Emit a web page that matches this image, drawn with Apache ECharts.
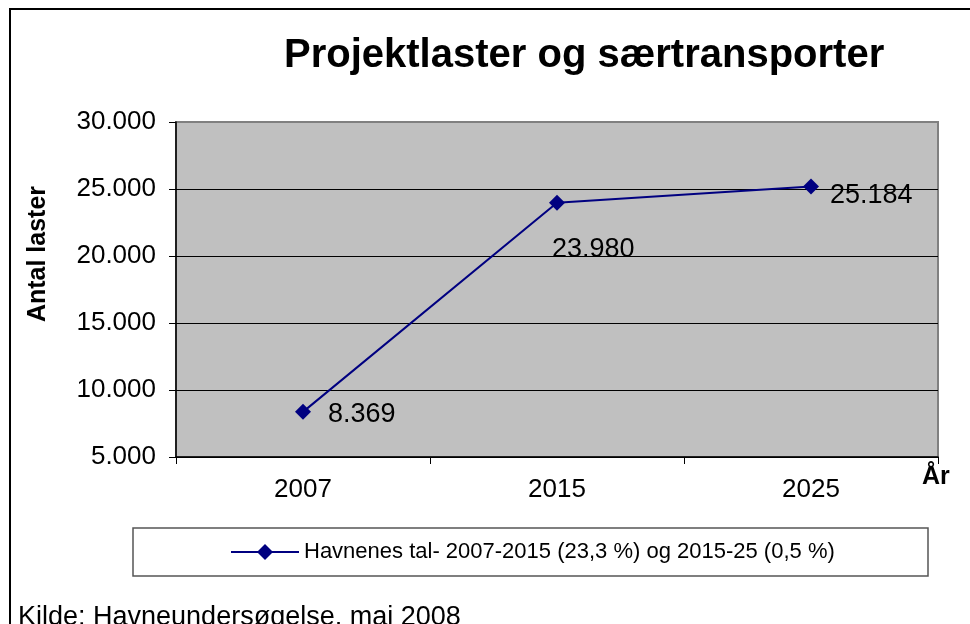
<!DOCTYPE html>
<html>
<head>
<meta charset="utf-8">
<script src="https://cdn.jsdelivr.net/npm/echarts@6/dist/echarts.min.js"></script>
<style>
  html, body { margin: 0; padding: 0; background: #fff; }
  #chart { width: 970px; height: 624px; }
</style>
</head>
<body>
<div id="chart"></div>
<script>
  // data
  var years = ['2007', '2015', '2025'];
  var havnenesTal = [8369, 23980, 25184];
  var seriesName = 'Havnenes tal- 2007-2015 (23,3 %) og 2015-25 (0,5 %)';
  // label nudges per point (Excel put them a bit oddly)
  var labelOffsets = [[12, 3], [-18, 47], [6, 9]];

  var FONT = '"Liberation Sans", Arial, sans-serif';

  function fmt(v) {
    return String(v).replace(/\B(?=(\d{3})+(?!\d))/g, '.');
  }

  var myChart = echarts.init(document.getElementById('chart'));

  var option = {
    backgroundColor: '#fff',
    animation: false,
    title: {
      text: 'Projektlaster og særtransporter',
      left: 284,
      top: 36,
      padding: 0,
      textStyle: { fontFamily: FONT, fontSize: 40, fontWeight: 'bold', color: '#000' }
    },
    grid: {
      left: 176,
      top: 122,
      right: 32,
      bottom: 167,
      show: true,
      backgroundColor: '#c0c0c0',
      borderColor: '#808080',
      borderWidth: 2
    },
    legend: {
      left: 230,
      top: 541,
      padding: 0,
      itemWidth: 68,
      itemHeight: 20,
      itemGap: 4,
      textStyle: { fontFamily: FONT, fontSize: 22, color: '#000' },
      data: [seriesName]
    },
    xAxis: {
      type: 'category',
      data: years,
      boundaryGap: true,
      axisLine: { lineStyle: { color: '#000', width: 1.5 } },
      axisTick: { show: true, length: 7, lineStyle: { color: '#000' } },
      axisLabel: { margin: 20, fontFamily: FONT, fontSize: 26, color: '#000' },
      splitLine: { show: false }
    },
    yAxis: {
      type: 'value',
      min: 5000,
      max: 30000,
      interval: 5000,
      axisLine: { show: true, lineStyle: { color: '#000', width: 1.5 } },
      axisTick: { show: true, length: 7, lineStyle: { color: '#000' } },
      axisLabel: {
        margin: 20,
        fontFamily: FONT,
        fontSize: 26,
        color: '#000',
        formatter: function (v) { return fmt(v); }
      },
      splitLine: {
        show: true,
        showMaxLine: false,
        lineStyle: { color: '#000', width: 1 }
      }
    },
    series: [{
      name: seriesName,
      type: 'line',
      symbol: 'diamond',
      symbolSize: 16,
      lineStyle: { color: '#000080', width: 2 },
      itemStyle: { color: '#000080' },
      data: havnenesTal.map(function (v, i) {
        return {
          value: v,
          label: { offset: labelOffsets[i] }
        };
      }),
      label: {
        show: true,
        position: 'right',
        distance: 5,
        fontFamily: FONT,
        fontSize: 27,
        color: '#000',
        formatter: function (p) { return fmt(p.value); }
      }
    }],
    graphic: [
      // outer chart frame (right/bottom fall outside the picture)
      {
        type: 'rect',
        shape: { x: 10, y: 9, width: 980, height: 700 },
        style: { fill: 'none', stroke: '#000', lineWidth: 2 },
        silent: true
      },
      // legend box
      {
        type: 'rect',
        shape: { x: 133, y: 528, width: 795, height: 48 },
        style: { fill: 'none', stroke: '#555', lineWidth: 1.5 },
        silent: true
      },
      {
        type: 'text',
        x: 38,
        y: 254,
        rotation: Math.PI / 2,
        style: {
          text: 'Antal laster',
          fontFamily: FONT,
          fontSize: 25,
          fontWeight: 'bold',
          fill: '#000',
          textAlign: 'center',
          textVerticalAlign: 'middle'
        }
      },
      {
        type: 'text',
        x: 922,
        y: 465,
        style: {
          text: 'År',
          fontFamily: FONT,
          fontSize: 25,
          fontWeight: 'bold',
          fill: '#000',
          textVerticalAlign: 'top'
        }
      },
      {
        type: 'text',
        x: 18,
        y: 604,
        style: {
          text: 'Kilde: Havneundersøgelse, maj 2008',
          fontFamily: FONT,
          fontSize: 27,
          fill: '#000',
          textVerticalAlign: 'top'
        }
      }
    ]
  };

  myChart.setOption(option);
</script>
</body>
</html>
